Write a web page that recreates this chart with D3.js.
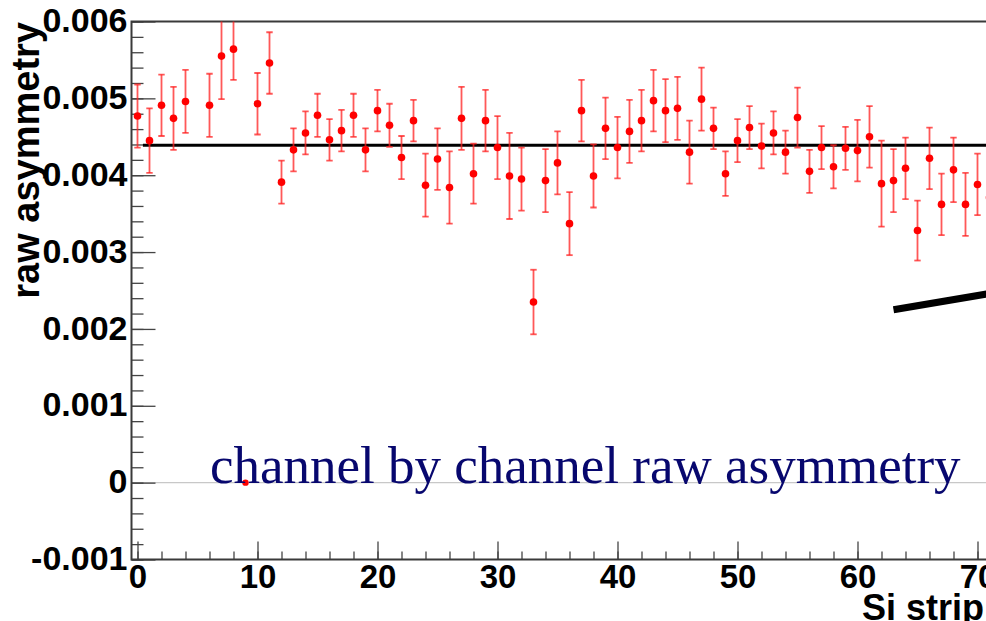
<!DOCTYPE html>
<html>
<head>
<meta charset="utf-8">
<script src="https://cdn.jsdelivr.net/npm/d3@7"></script>
<style>
  body { margin: 0; background: #fff; overflow: hidden; }
  svg { display: block; }
  .tick text { font-family: "Liberation Sans", Arial, sans-serif; font-weight: bold; fill: #000; }
</style>
</head>
<body>
<svg id="chart" width="986" height="621"></svg>
<script>
// channel numbers (5 is missing, 9 is a dead channel at zero)
var channels = [0,1,2,3,4,6,7,8,9,10,11,12,13,14,15,16,17,18,19,20,21,22,23,24,25,26,27,28,29,30,
  31,32,33,34,35,36,37,38,39,40,41,42,43,44,45,46,47,48,49,50,51,52,53,54,55,56,57,58,59,60,
  61,62,63,64,65,66,67,68,69,70,71];

// raw asymmetry, in units of 1e-3
var asym = [4.77,4.45,4.91,4.74,4.96,4.91,5.55,5.64,0,4.93,5.46,3.91,4.33,4.55,4.78,4.46,4.58,4.78,4.33,4.84,
  4.65,4.23,4.71,3.87,4.21,3.84,4.74,4.02,4.71,4.36,3.99,3.95,2.35,3.93,4.16,3.37,4.84,3.99,4.61,4.36,
  4.57,4.71,4.97,4.84,4.87,4.30,4.99,4.61,4.02,4.45,4.62,4.38,4.55,4.30,4.75,4.05,4.36,4.11,4.35,4.32,
  4.50,3.89,3.93,4.09,3.28,4.22,3.62,4.07,3.62,3.88,3.71];

// statistical errors, in units of 1e-3
var errs = [0.41,0.42,0.40,0.41,0.41,0.41,0.56,0.40,0,0.40,0.40,0.28,0.28,0.28,0.28,0.27,0.27,0.28,0.28,0.27,
  0.28,0.28,0.27,0.41,0.40,0.47,0.41,0.39,0.40,0.41,0.56,0.41,0.42,0.41,0.41,0.41,0.40,0.41,0.40,0.40,
  0.41,0.40,0.40,0.41,0.41,0.41,0.41,0.27,0.29,0.28,0.28,0.29,0.28,0.28,0.39,0.28,0.28,0.28,0.28,0.40,
  0.40,0.56,0.41,0.40,0.39,0.40,0.40,0.42,0.41,0.40,0.42];

// constant fit
var fitValue = 0.00439;
var fitRange = [0.45, 72];

var yTicks = [-0.001, 0, 0.001, 0.002, 0.003, 0.004, 0.005, 0.006];
var yTickLabels = ["-0.001", "0", "0.001", "0.002", "0.003", "0.004", "0.005", "0.006"];
var xTicks = [0, 10, 20, 30, 40, 50, 60, 70];

// pointer line drawn on top of the slide (data coords)
var pointer = [[63.0, 0.00225], [71.0, 0.00246]];

var svg = d3.select("#chart");

var x = d3.scaleLinear().domain([-0.5, 72]).range([131.5, 1001.5]);
var y = d3.scaleLinear().domain([-0.001, 0.006]).range([559.5, 21.5]);

var points = channels.map(function(c, i) {
  return {ch: c, v: asym[i] * 1e-3, e: errs[i] * 1e-3};
});

// zero line
svg.append("line")
  .attr("x1", x(-0.5)).attr("x2", 986)
  .attr("y1", y(0)).attr("y2", y(0))
  .attr("stroke", "#c8c8c8").attr("stroke-width", 1.2);

svg.append("defs").append("clipPath").attr("id", "frame")
  .append("rect").attr("x", 131.5).attr("y", 21.5).attr("width", 900).attr("height", 538);

// minor ticks
var yMinor = d3.range(-10, 61, 2).map(function(d) { return d * 1e-4; });
svg.append("g").attr("transform", "translate(131.5,0)")
  .call(d3.axisLeft(y).tickValues(yMinor).tickSize(-12).tickFormat(""))
  .call(function(g) { g.select(".domain").remove(); g.selectAll("line").attr("stroke", "#444").attr("stroke-width", 1.3); });

var xMinor = d3.range(0, 73, 2);
svg.append("g").attr("transform", "translate(0,559.5)")
  .call(d3.axisBottom(x).tickValues(xMinor).tickSize(-8).tickFormat(""))
  .call(function(g) { g.select(".domain").remove(); g.selectAll("line").attr("stroke", "#444").attr("stroke-width", 1.3); });

// major ticks + labels
svg.append("g").attr("transform", "translate(131.5,0)")
  .call(d3.axisLeft(y).tickValues(yTicks).tickSize(-24).tickPadding(4)
    .tickFormat(function(d, i) { return yTickLabels[i]; }))
  .call(function(g) {
    g.select(".domain").remove();
    g.selectAll("line").attr("stroke", "#444").attr("stroke-width", 1.3);
    g.selectAll("text").style("font-size", "34px").attr("dy", "0.3em");
  });

svg.append("g").attr("transform", "translate(0,559.5)")
  .call(d3.axisBottom(x).tickValues(xTicks).tickSize(-18).tickPadding(5))
  .call(function(g) {
    g.select(".domain").remove();
    g.selectAll("line").attr("stroke", "#444").attr("stroke-width", 1.3);
    g.selectAll("text").style("font-size", "33px");
  });

// frame
svg.append("path")
  .attr("d", "M986,21.5H131.5V559.5H986")
  .attr("fill", "none").attr("stroke", "#3a3a3a").attr("stroke-width", 2);

var plot = svg.append("g").attr("clip-path", "url(#frame)");

// fit line
plot.append("line")
  .attr("x1", x(fitRange[0])).attr("x2", x(fitRange[1]))
  .attr("y1", y(fitValue)).attr("y2", y(fitValue))
  .attr("stroke", "#000").attr("stroke-width", 3.2);

// error bars
var bars = plot.selectAll(".err").data(points.filter(function(p) { return p.e > 0; }))
  .enter().append("g").attr("class", "err")
  .attr("stroke", "#ff2020").attr("stroke-opacity", 0.75).attr("stroke-width", 1.8);
bars.append("line")
  .attr("x1", function(d) { return x(d.ch); }).attr("x2", function(d) { return x(d.ch); })
  .attr("y1", function(d) { return y(d.v + d.e); }).attr("y2", function(d) { return y(d.v - d.e); });
bars.append("line")
  .attr("x1", function(d) { return x(d.ch) - 3.2; }).attr("x2", function(d) { return x(d.ch) + 3.2; })
  .attr("y1", function(d) { return y(d.v + d.e); }).attr("y2", function(d) { return y(d.v + d.e); });
bars.append("line")
  .attr("x1", function(d) { return x(d.ch) - 3.2; }).attr("x2", function(d) { return x(d.ch) + 3.2; })
  .attr("y1", function(d) { return y(d.v - d.e); }).attr("y2", function(d) { return y(d.v - d.e); });

// markers
plot.selectAll(".pt").data(points).enter().append("circle")
  .attr("class", "pt")
  .attr("cx", function(d) { return x(d.ch); })
  .attr("cy", function(d) { return y(d.v); })
  .attr("r", function(d) { return d.e > 0 ? 3.8 : 3.2; })
  .attr("fill", "#ff0000");

// axis titles
svg.append("text")
  .attr("transform", "translate(39,22) rotate(-90)")
  .attr("text-anchor", "end")
  .style("font-family", "'Liberation Sans', Arial, sans-serif")
  .style("font-weight", "bold").style("font-size", "38px")
  .text("raw asymmetry");

svg.append("text")
  .attr("x", 862).attr("y", 620)
  .style("font-family", "'Liberation Sans', Arial, sans-serif")
  .style("font-weight", "bold").style("font-size", "36px")
  .text("Si strip");

// slide annotation
svg.append("text")
  .attr("x", 210).attr("y", 483)
  .style("font-family", "'Liberation Serif', 'Times New Roman', serif")
  .style("font-size", "53px").attr("fill", "#07076e")
  .text("channel by channel raw asymmetry");

svg.append("path")
  .attr("d", d3.line().x(function(d) { return x(d[0]); }).y(function(d) { return y(d[1]); })(pointer))
  .attr("stroke", "#000").attr("stroke-width", 7).attr("fill", "none");
</script>
</body>
</html>
